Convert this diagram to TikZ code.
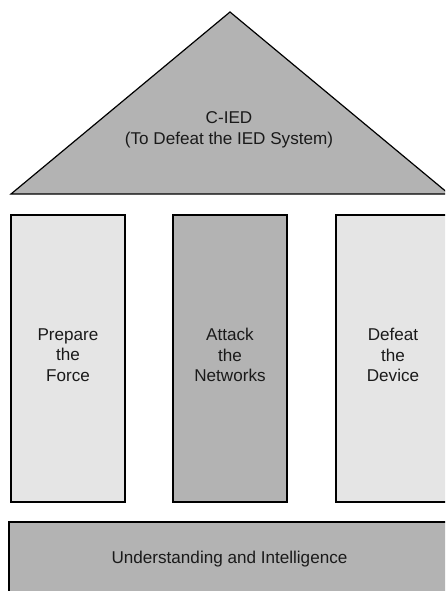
\documentclass[tikz,border=0pt]{standalone}
\usepackage{fontspec}
\setmainfont{Liberation Sans}
\definecolor{lightfill}{HTML}{E5E5E5}
\definecolor{darkfill}{HTML}{B3B3B3}
\definecolor{textcol}{HTML}{1A1A1A}
\begin{document}
\begin{tikzpicture}[x=1pt,y=-1pt,
  part/.style={draw=black,line width=1.2pt,line join=miter},
  label/.style={align=center,inner sep=0pt,text=textcol,font=\fontsize{17.1}{20.7}\selectfont}]
\useasboundingbox (0,0) rectangle (445,591);
\clip (0,0) rectangle (445,591);
% roof
\draw[part,fill=darkfill] (230,12) coordinate (apex) -- (449,194) -- (11,194) -- cycle;
\node[label] (roof) at (229,130) {C-IED\\(To Defeat the IED System)};
% pillars
\draw[part,fill=lightfill] (11,215) rectangle (125,502);
\draw[part,fill=darkfill] (173,215) rectangle (287,502);
\draw[part,fill=lightfill] (336,215) rectangle (450,502);
\node[label] (force) at (68,355) {Prepare\\the\\Force};
\node[label] (networks) at (230,355) {Attack\\the\\Networks};
\node[label] (device) at (393,355) {Defeat\\the\\Device};
% foundation
\draw[part,fill=darkfill] (9,522) rectangle (460,600);
\node[label,anchor=base] (intel) at (229.5,563.3) {Understanding and Intelligence};
\end{tikzpicture}
\end{document}
